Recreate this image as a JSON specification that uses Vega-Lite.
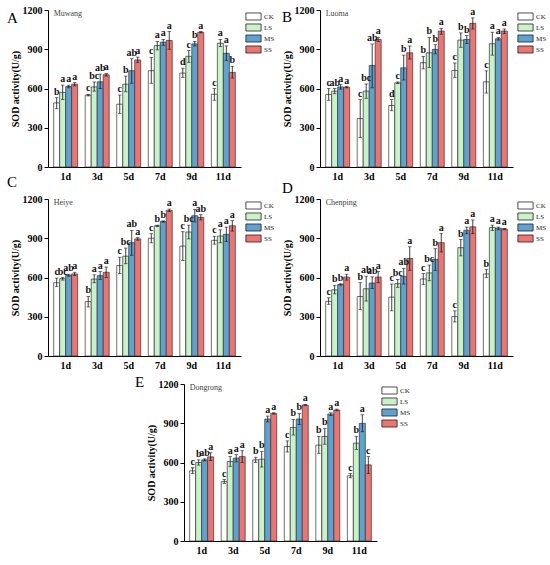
{
  "$schema": "https://vega.github.io/schema/vega-lite/v6.json",
  "padding": {"left": 7, "top": 5, "right": 5, "bottom": 5},
  "datasets": {
    "sod": [
      {"site": "Muwang", "day": "1d", "trt": "CK", "mean": 490, "lo": 445, "hi": 530, "letter": "b"},
      {"site": "Muwang", "day": "1d", "trt": "LS", "mean": 570, "lo": 515, "hi": 626, "letter": "a"},
      {"site": "Muwang", "day": "1d", "trt": "MS", "mean": 615, "lo": 605, "hi": 625, "letter": "a"},
      {"site": "Muwang", "day": "1d", "trt": "SS", "mean": 633, "lo": 620, "hi": 645, "letter": "a"},
      {"site": "Muwang", "day": "3d", "trt": "CK", "mean": 549, "lo": 543, "hi": 555, "letter": "c"},
      {"site": "Muwang", "day": "3d", "trt": "LS", "mean": 612, "lo": 580, "hi": 650, "letter": "bc"},
      {"site": "Muwang", "day": "3d", "trt": "MS", "mean": 651, "lo": 600, "hi": 710, "letter": "ab"},
      {"site": "Muwang", "day": "3d", "trt": "SS", "mean": 705, "lo": 695, "hi": 715, "letter": "a"},
      {"site": "Muwang", "day": "5d", "trt": "CK", "mean": 480, "lo": 410, "hi": 550, "letter": "c"},
      {"site": "Muwang", "day": "5d", "trt": "LS", "mean": 633, "lo": 575, "hi": 695, "letter": "b"},
      {"site": "Muwang", "day": "5d", "trt": "MS", "mean": 736, "lo": 640, "hi": 828, "letter": "ab"},
      {"site": "Muwang", "day": "5d", "trt": "SS", "mean": 818, "lo": 800, "hi": 840, "letter": "a"},
      {"site": "Muwang", "day": "7d", "trt": "CK", "mean": 736, "lo": 640, "hi": 838, "letter": "c"},
      {"site": "Muwang", "day": "7d", "trt": "LS", "mean": 928, "lo": 895, "hi": 960, "letter": "a"},
      {"site": "Muwang", "day": "7d", "trt": "MS", "mean": 954, "lo": 930, "hi": 975, "letter": "a"},
      {"site": "Muwang", "day": "7d", "trt": "SS", "mean": 967, "lo": 900, "hi": 1035, "letter": "a"},
      {"site": "Muwang", "day": "9d", "trt": "CK", "mean": 718, "lo": 685, "hi": 755, "letter": "d"},
      {"site": "Muwang", "day": "9d", "trt": "LS", "mean": 846, "lo": 800, "hi": 890, "letter": "c"},
      {"site": "Muwang", "day": "9d", "trt": "MS", "mean": 941, "lo": 925, "hi": 960, "letter": "b"},
      {"site": "Muwang", "day": "9d", "trt": "SS", "mean": 1030, "lo": 1025, "hi": 1035, "letter": "a"},
      {"site": "Muwang", "day": "11d", "trt": "CK", "mean": 556, "lo": 510, "hi": 600, "letter": "c"},
      {"site": "Muwang", "day": "11d", "trt": "LS", "mean": 946, "lo": 920, "hi": 975, "letter": "a"},
      {"site": "Muwang", "day": "11d", "trt": "MS", "mean": 869, "lo": 815, "hi": 925, "letter": "a"},
      {"site": "Muwang", "day": "11d", "trt": "SS", "mean": 723, "lo": 680, "hi": 770, "letter": "b"},

      {"site": "Luoma", "day": "1d", "trt": "CK", "mean": 554, "lo": 510, "hi": 600, "letter": "c"},
      {"site": "Luoma", "day": "1d", "trt": "LS", "mean": 580, "lo": 560, "hi": 600, "letter": "ab"},
      {"site": "Luoma", "day": "1d", "trt": "MS", "mean": 612, "lo": 595, "hi": 630, "letter": "a"},
      {"site": "Luoma", "day": "1d", "trt": "SS", "mean": 610, "lo": 605, "hi": 615, "letter": "a"},
      {"site": "Luoma", "day": "3d", "trt": "CK", "mean": 370, "lo": 225, "hi": 515, "letter": "c"},
      {"site": "Luoma", "day": "3d", "trt": "LS", "mean": 580, "lo": 525, "hi": 635, "letter": "bc"},
      {"site": "Luoma", "day": "3d", "trt": "MS", "mean": 776, "lo": 605, "hi": 940, "letter": "ab"},
      {"site": "Luoma", "day": "3d", "trt": "SS", "mean": 975, "lo": 960, "hi": 990, "letter": "a"},
      {"site": "Luoma", "day": "5d", "trt": "CK", "mean": 470, "lo": 430, "hi": 515, "letter": "d"},
      {"site": "Luoma", "day": "5d", "trt": "LS", "mean": 643, "lo": 638, "hi": 650, "letter": "c"},
      {"site": "Luoma", "day": "5d", "trt": "MS", "mean": 758, "lo": 665, "hi": 855, "letter": "b"},
      {"site": "Luoma", "day": "5d", "trt": "SS", "mean": 873, "lo": 825, "hi": 925, "letter": "a"},
      {"site": "Luoma", "day": "7d", "trt": "CK", "mean": 797, "lo": 750, "hi": 845, "letter": "b"},
      {"site": "Luoma", "day": "7d", "trt": "LS", "mean": 873, "lo": 760, "hi": 990, "letter": "b"},
      {"site": "Luoma", "day": "7d", "trt": "MS", "mean": 899, "lo": 865, "hi": 935, "letter": "b"},
      {"site": "Luoma", "day": "7d", "trt": "SS", "mean": 1039, "lo": 1015, "hi": 1060, "letter": "a"},
      {"site": "Luoma", "day": "9d", "trt": "CK", "mean": 738, "lo": 685, "hi": 795, "letter": "c"},
      {"site": "Luoma", "day": "9d", "trt": "LS", "mean": 970, "lo": 915, "hi": 1025, "letter": "b"},
      {"site": "Luoma", "day": "9d", "trt": "MS", "mean": 975, "lo": 945, "hi": 1005, "letter": "b"},
      {"site": "Luoma", "day": "9d", "trt": "SS", "mean": 1098, "lo": 1055, "hi": 1140, "letter": "a"},
      {"site": "Luoma", "day": "11d", "trt": "CK", "mean": 651, "lo": 565, "hi": 735, "letter": "c"},
      {"site": "Luoma", "day": "11d", "trt": "LS", "mean": 942, "lo": 855, "hi": 1030, "letter": "a"},
      {"site": "Luoma", "day": "11d", "trt": "MS", "mean": 980, "lo": 970, "hi": 990, "letter": "a"},
      {"site": "Luoma", "day": "11d", "trt": "SS", "mean": 1039, "lo": 1020, "hi": 1055, "letter": "a"},

      {"site": "Heiye", "day": "1d", "trt": "CK", "mean": 560, "lo": 530, "hi": 595, "letter": "c"},
      {"site": "Heiye", "day": "1d", "trt": "LS", "mean": 591, "lo": 580, "hi": 600, "letter": "bc"},
      {"site": "Heiye", "day": "1d", "trt": "MS", "mean": 617, "lo": 610, "hi": 625, "letter": "ab"},
      {"site": "Heiye", "day": "1d", "trt": "SS", "mean": 627, "lo": 615, "hi": 640, "letter": "a"},
      {"site": "Heiye", "day": "3d", "trt": "CK", "mean": 416, "lo": 375, "hi": 455, "letter": "b"},
      {"site": "Heiye", "day": "3d", "trt": "LS", "mean": 588, "lo": 560, "hi": 620, "letter": "a"},
      {"site": "Heiye", "day": "3d", "trt": "MS", "mean": 614, "lo": 585, "hi": 645, "letter": "a"},
      {"site": "Heiye", "day": "3d", "trt": "SS", "mean": 640, "lo": 600, "hi": 680, "letter": "a"},
      {"site": "Heiye", "day": "5d", "trt": "CK", "mean": 691, "lo": 630, "hi": 755, "letter": "c"},
      {"site": "Heiye", "day": "5d", "trt": "LS", "mean": 763, "lo": 705, "hi": 825, "letter": "bc"},
      {"site": "Heiye", "day": "5d", "trt": "MS", "mean": 866, "lo": 770, "hi": 960, "letter": "ab"},
      {"site": "Heiye", "day": "5d", "trt": "SS", "mean": 895, "lo": 885, "hi": 905, "letter": "a"},
      {"site": "Heiye", "day": "7d", "trt": "CK", "mean": 900, "lo": 865, "hi": 935, "letter": "c"},
      {"site": "Heiye", "day": "7d", "trt": "LS", "mean": 995, "lo": 990, "hi": 1000, "letter": "b"},
      {"site": "Heiye", "day": "7d", "trt": "MS", "mean": 1028, "lo": 1023, "hi": 1033, "letter": "b"},
      {"site": "Heiye", "day": "7d", "trt": "SS", "mean": 1113, "lo": 1103, "hi": 1123, "letter": "a"},
      {"site": "Heiye", "day": "9d", "trt": "CK", "mean": 840, "lo": 730, "hi": 950, "letter": "c"},
      {"site": "Heiye", "day": "9d", "trt": "LS", "mean": 948, "lo": 895, "hi": 1000, "letter": "bc"},
      {"site": "Heiye", "day": "9d", "trt": "MS", "mean": 1072, "lo": 1025, "hi": 1120, "letter": "a"},
      {"site": "Heiye", "day": "9d", "trt": "SS", "mean": 1059, "lo": 1040, "hi": 1080, "letter": "ab"},
      {"site": "Heiye", "day": "11d", "trt": "CK", "mean": 884, "lo": 855, "hi": 915, "letter": "c"},
      {"site": "Heiye", "day": "11d", "trt": "LS", "mean": 917, "lo": 865, "hi": 965, "letter": "a"},
      {"site": "Heiye", "day": "11d", "trt": "MS", "mean": 930, "lo": 875, "hi": 985, "letter": "a"},
      {"site": "Heiye", "day": "11d", "trt": "SS", "mean": 995, "lo": 955, "hi": 1035, "letter": "a"},

      {"site": "Chenping", "day": "1d", "trt": "CK", "mean": 418, "lo": 395, "hi": 445, "letter": "c"},
      {"site": "Chenping", "day": "1d", "trt": "LS", "mean": 506, "lo": 475, "hi": 540, "letter": "b"},
      {"site": "Chenping", "day": "1d", "trt": "MS", "mean": 547, "lo": 542, "hi": 552, "letter": "b"},
      {"site": "Chenping", "day": "1d", "trt": "SS", "mean": 603, "lo": 580, "hi": 625, "letter": "a"},
      {"site": "Chenping", "day": "3d", "trt": "CK", "mean": 455, "lo": 355, "hi": 560, "letter": "b"},
      {"site": "Chenping", "day": "3d", "trt": "LS", "mean": 514, "lo": 420, "hi": 610, "letter": "ab"},
      {"site": "Chenping", "day": "3d", "trt": "MS", "mean": 558, "lo": 515, "hi": 605, "letter": "ab"},
      {"site": "Chenping", "day": "3d", "trt": "SS", "mean": 603, "lo": 560, "hi": 645, "letter": "a"},
      {"site": "Chenping", "day": "5d", "trt": "CK", "mean": 450, "lo": 345, "hi": 550, "letter": "c"},
      {"site": "Chenping", "day": "5d", "trt": "LS", "mean": 553, "lo": 525, "hi": 585, "letter": "bc"},
      {"site": "Chenping", "day": "5d", "trt": "MS", "mean": 609, "lo": 550, "hi": 670, "letter": "ab"},
      {"site": "Chenping", "day": "5d", "trt": "SS", "mean": 745, "lo": 655, "hi": 835, "letter": "a"},
      {"site": "Chenping", "day": "7d", "trt": "CK", "mean": 589, "lo": 545, "hi": 630, "letter": "c"},
      {"site": "Chenping", "day": "7d", "trt": "LS", "mean": 635, "lo": 575, "hi": 695, "letter": "bc"},
      {"site": "Chenping", "day": "7d", "trt": "MS", "mean": 738, "lo": 655, "hi": 820, "letter": "b"},
      {"site": "Chenping", "day": "7d", "trt": "SS", "mean": 866, "lo": 795, "hi": 935, "letter": "a"},
      {"site": "Chenping", "day": "9d", "trt": "CK", "mean": 301, "lo": 260, "hi": 345, "letter": "c"},
      {"site": "Chenping", "day": "9d", "trt": "LS", "mean": 828, "lo": 765, "hi": 890, "letter": "b"},
      {"site": "Chenping", "day": "9d", "trt": "MS", "mean": 961, "lo": 935, "hi": 985, "letter": "a"},
      {"site": "Chenping", "day": "9d", "trt": "SS", "mean": 987, "lo": 935, "hi": 1040, "letter": "a"},
      {"site": "Chenping", "day": "11d", "trt": "CK", "mean": 627, "lo": 600, "hi": 660, "letter": "b"},
      {"site": "Chenping", "day": "11d", "trt": "LS", "mean": 982, "lo": 960, "hi": 1000, "letter": "a"},
      {"site": "Chenping", "day": "11d", "trt": "MS", "mean": 977, "lo": 965, "hi": 985, "letter": "a"},
      {"site": "Chenping", "day": "11d", "trt": "SS", "mean": 971, "lo": 965, "hi": 975, "letter": "a"},

      {"site": "Dongrong", "day": "1d", "trt": "CK", "mean": 536, "lo": 515, "hi": 560, "letter": "c"},
      {"site": "Dongrong", "day": "1d", "trt": "LS", "mean": 600, "lo": 580, "hi": 620, "letter": "b"},
      {"site": "Dongrong", "day": "1d", "trt": "MS", "mean": 620, "lo": 612, "hi": 628, "letter": "ab"},
      {"site": "Dongrong", "day": "1d", "trt": "SS", "mean": 643, "lo": 615, "hi": 675, "letter": "a"},
      {"site": "Dongrong", "day": "3d", "trt": "CK", "mean": 454, "lo": 440, "hi": 470, "letter": "c"},
      {"site": "Dongrong", "day": "3d", "trt": "LS", "mean": 608, "lo": 570, "hi": 645, "letter": "a"},
      {"site": "Dongrong", "day": "3d", "trt": "MS", "mean": 633, "lo": 605, "hi": 660, "letter": "a"},
      {"site": "Dongrong", "day": "3d", "trt": "SS", "mean": 645, "lo": 600, "hi": 690, "letter": "a"},
      {"site": "Dongrong", "day": "5d", "trt": "CK", "mean": 620, "lo": 600, "hi": 640, "letter": "b"},
      {"site": "Dongrong", "day": "5d", "trt": "LS", "mean": 625, "lo": 565, "hi": 685, "letter": "b"},
      {"site": "Dongrong", "day": "5d", "trt": "MS", "mean": 932, "lo": 910, "hi": 955, "letter": "a"},
      {"site": "Dongrong", "day": "5d", "trt": "SS", "mean": 975, "lo": 970, "hi": 980, "letter": "a"},
      {"site": "Dongrong", "day": "7d", "trt": "CK", "mean": 722, "lo": 680, "hi": 765, "letter": "c"},
      {"site": "Dongrong", "day": "7d", "trt": "LS", "mean": 868, "lo": 810, "hi": 930, "letter": "b"},
      {"site": "Dongrong", "day": "7d", "trt": "MS", "mean": 932, "lo": 890, "hi": 975, "letter": "b"},
      {"site": "Dongrong", "day": "7d", "trt": "SS", "mean": 1039, "lo": 1034, "hi": 1044, "letter": "a"},
      {"site": "Dongrong", "day": "9d", "trt": "CK", "mean": 733, "lo": 670, "hi": 800, "letter": "b"},
      {"site": "Dongrong", "day": "9d", "trt": "LS", "mean": 799, "lo": 740, "hi": 860, "letter": "b"},
      {"site": "Dongrong", "day": "9d", "trt": "MS", "mean": 970, "lo": 960, "hi": 980, "letter": "a"},
      {"site": "Dongrong", "day": "9d", "trt": "SS", "mean": 1001, "lo": 995, "hi": 1008, "letter": "a"},
      {"site": "Dongrong", "day": "11d", "trt": "CK", "mean": 498, "lo": 483, "hi": 515, "letter": "c"},
      {"site": "Dongrong", "day": "11d", "trt": "LS", "mean": 748, "lo": 700, "hi": 800, "letter": "b"},
      {"site": "Dongrong", "day": "11d", "trt": "MS", "mean": 899, "lo": 835, "hi": 965, "letter": "a"},
      {"site": "Dongrong", "day": "11d", "trt": "SS", "mean": 582, "lo": 515, "hi": 645, "letter": "c"}
    ]
  },
  "data": {"name": "sod"},
  "vconcat": [
    {
      "columns": 2,
      "spacing": {"row": 32, "column": 79},
      "bounds": "flush",
      "resolve": {"legend": {"color": "independent"}},
      "concat": [
        {
          "title": {"text": "A", "offset": -21, "dx": -3},
          "width": 193, "height": 157,
          "transform": [{"filter": "datum.site === 'Muwang'"}],
          "encoding": {
            "x": {"field": "day", "type": "nominal", "sort": ["1d", "3d", "5d", "7d", "9d", "11d"], "title": null, "scale": {"paddingInner": 0.24, "paddingOuter": 0.18}, "axis": {"labelAngle": 0, "ticks": false}},
            "xOffset": {"field": "trt", "type": "nominal", "sort": ["CK", "LS", "MS", "SS"]}
          },
          "layer": [
            {"mark": {"type": "bar", "stroke": "#333333", "strokeWidth": 0.7},
             "encoding": {
               "y": {"field": "mean", "type": "quantitative", "title": "SOD activity(U/g)", "scale": {"domain": [0, 1200]}, "axis": {"values": [0, 300, 600, 900, 1200], "format": "d", "labelOverlap": false}},
               "color": {"field": "trt", "type": "nominal", "title": null, "scale": {"domain": ["CK", "LS", "MS", "SS"], "range": ["#ffffff", "#c9f2c5", "#5ba3d2", "#ef736e"]}}}},
            {"mark": {"type": "rule", "color": "#111111", "strokeWidth": 0.8}, "encoding": {"y": {"field": "lo", "type": "quantitative", "title": "SOD activity(U/g)", "axis": {"values": [0, 300, 600, 900, 1200], "format": "d", "labelOverlap": false}}, "y2": {"field": "hi"}}},
            {"mark": {"type": "tick", "color": "#111111", "thickness": 0.8, "size": 3.5}, "encoding": {"y": {"field": "lo", "type": "quantitative", "title": "SOD activity(U/g)", "axis": {"values": [0, 300, 600, 900, 1200], "format": "d", "labelOverlap": false}}}},
            {"mark": {"type": "tick", "color": "#111111", "thickness": 0.8, "size": 3.5}, "encoding": {"y": {"field": "hi", "type": "quantitative", "title": "SOD activity(U/g)", "axis": {"values": [0, 300, 600, 900, 1200], "format": "d", "labelOverlap": false}}}},
            {"mark": {"type": "text", "baseline": "bottom", "dy": -1, "fontSize": 10, "fontWeight": "bold", "font": "Liberation Serif", "color": "#111111"}, "encoding": {"y": {"field": "hi", "type": "quantitative", "title": "SOD activity(U/g)", "axis": {"values": [0, 300, 600, 900, 1200], "format": "d", "labelOverlap": false}}, "text": {"field": "letter"}}},
            {"transform": [{"filter": "datum.day === '1d' && datum.trt === 'CK'"}], "mark": {"type": "text", "align": "left", "baseline": "middle", "dx": -3, "fontSize": 8, "font": "Liberation Serif", "color": "#444444"}, "encoding": {"y": {"datum": 1170, "axis": {"values": [0, 300, 600, 900, 1200], "format": "d", "labelOverlap": false}}, "text": {"field": "site"}}}
          ]
        },
        {
          "title": {"text": "B", "offset": -20, "dx": 0},
          "width": 193, "height": 157,
          "transform": [{"filter": "datum.site === 'Luoma'"}],
          "encoding": {
            "x": {"field": "day", "type": "nominal", "sort": ["1d", "3d", "5d", "7d", "9d", "11d"], "title": null, "scale": {"paddingInner": 0.24, "paddingOuter": 0.18}, "axis": {"labelAngle": 0, "ticks": false}},
            "xOffset": {"field": "trt", "type": "nominal", "sort": ["CK", "LS", "MS", "SS"]}
          },
          "layer": [
            {"mark": {"type": "bar", "stroke": "#333333", "strokeWidth": 0.7},
             "encoding": {
               "y": {"field": "mean", "type": "quantitative", "title": "SOD activity(U/g)", "scale": {"domain": [0, 1200]}, "axis": {"values": [0, 300, 600, 900, 1200], "format": "d", "labelOverlap": false}},
               "color": {"field": "trt", "type": "nominal", "title": null, "scale": {"domain": ["CK", "LS", "MS", "SS"], "range": ["#ffffff", "#c9f2c5", "#5ba3d2", "#ef736e"]}}}},
            {"mark": {"type": "rule", "color": "#111111", "strokeWidth": 0.8}, "encoding": {"y": {"field": "lo", "type": "quantitative", "title": "SOD activity(U/g)", "axis": {"values": [0, 300, 600, 900, 1200], "format": "d", "labelOverlap": false}}, "y2": {"field": "hi"}}},
            {"mark": {"type": "tick", "color": "#111111", "thickness": 0.8, "size": 3.5}, "encoding": {"y": {"field": "lo", "type": "quantitative", "title": "SOD activity(U/g)", "axis": {"values": [0, 300, 600, 900, 1200], "format": "d", "labelOverlap": false}}}},
            {"mark": {"type": "tick", "color": "#111111", "thickness": 0.8, "size": 3.5}, "encoding": {"y": {"field": "hi", "type": "quantitative", "title": "SOD activity(U/g)", "axis": {"values": [0, 300, 600, 900, 1200], "format": "d", "labelOverlap": false}}}},
            {"mark": {"type": "text", "baseline": "bottom", "dy": -1, "fontSize": 10, "fontWeight": "bold", "font": "Liberation Serif", "color": "#111111"}, "encoding": {"y": {"field": "hi", "type": "quantitative", "title": "SOD activity(U/g)", "axis": {"values": [0, 300, 600, 900, 1200], "format": "d", "labelOverlap": false}}, "text": {"field": "letter"}}},
            {"transform": [{"filter": "datum.day === '1d' && datum.trt === 'CK'"}], "mark": {"type": "text", "align": "left", "baseline": "middle", "dx": -3, "fontSize": 8, "font": "Liberation Serif", "color": "#444444"}, "encoding": {"y": {"datum": 1170, "axis": {"values": [0, 300, 600, 900, 1200], "format": "d", "labelOverlap": false}}, "text": {"field": "site"}}}
          ]
        },
        {
          "title": {"text": "C", "offset": 4, "dx": -3},
          "width": 193, "height": 157,
          "transform": [{"filter": "datum.site === 'Heiye'"}],
          "encoding": {
            "x": {"field": "day", "type": "nominal", "sort": ["1d", "3d", "5d", "7d", "9d", "11d"], "title": null, "scale": {"paddingInner": 0.24, "paddingOuter": 0.18}, "axis": {"labelAngle": 0, "ticks": false}},
            "xOffset": {"field": "trt", "type": "nominal", "sort": ["CK", "LS", "MS", "SS"]}
          },
          "layer": [
            {"mark": {"type": "bar", "stroke": "#333333", "strokeWidth": 0.7},
             "encoding": {
               "y": {"field": "mean", "type": "quantitative", "title": "SOD activity(U/g)", "scale": {"domain": [0, 1200]}, "axis": {"values": [0, 300, 600, 900, 1200], "format": "d", "labelOverlap": false}},
               "color": {"field": "trt", "type": "nominal", "title": null, "scale": {"domain": ["CK", "LS", "MS", "SS"], "range": ["#ffffff", "#c9f2c5", "#5ba3d2", "#ef736e"]}}}},
            {"mark": {"type": "rule", "color": "#111111", "strokeWidth": 0.8}, "encoding": {"y": {"field": "lo", "type": "quantitative", "title": "SOD activity(U/g)", "axis": {"values": [0, 300, 600, 900, 1200], "format": "d", "labelOverlap": false}}, "y2": {"field": "hi"}}},
            {"mark": {"type": "tick", "color": "#111111", "thickness": 0.8, "size": 3.5}, "encoding": {"y": {"field": "lo", "type": "quantitative", "title": "SOD activity(U/g)", "axis": {"values": [0, 300, 600, 900, 1200], "format": "d", "labelOverlap": false}}}},
            {"mark": {"type": "tick", "color": "#111111", "thickness": 0.8, "size": 3.5}, "encoding": {"y": {"field": "hi", "type": "quantitative", "title": "SOD activity(U/g)", "axis": {"values": [0, 300, 600, 900, 1200], "format": "d", "labelOverlap": false}}}},
            {"mark": {"type": "text", "baseline": "bottom", "dy": -1, "fontSize": 10, "fontWeight": "bold", "font": "Liberation Serif", "color": "#111111"}, "encoding": {"y": {"field": "hi", "type": "quantitative", "title": "SOD activity(U/g)", "axis": {"values": [0, 300, 600, 900, 1200], "format": "d", "labelOverlap": false}}, "text": {"field": "letter"}}},
            {"transform": [{"filter": "datum.day === '1d' && datum.trt === 'CK'"}], "mark": {"type": "text", "align": "left", "baseline": "middle", "dx": -3, "fontSize": 8, "font": "Liberation Serif", "color": "#444444"}, "encoding": {"y": {"datum": 1170, "axis": {"values": [0, 300, 600, 900, 1200], "format": "d", "labelOverlap": false}}, "text": {"field": "site"}}}
          ]
        },
        {
          "title": {"text": "D", "offset": -2, "dx": 0},
          "width": 193, "height": 157,
          "transform": [{"filter": "datum.site === 'Chenping'"}],
          "encoding": {
            "x": {"field": "day", "type": "nominal", "sort": ["1d", "3d", "5d", "7d", "9d", "11d"], "title": null, "scale": {"paddingInner": 0.24, "paddingOuter": 0.18}, "axis": {"labelAngle": 0, "ticks": false}},
            "xOffset": {"field": "trt", "type": "nominal", "sort": ["CK", "LS", "MS", "SS"]}
          },
          "layer": [
            {"mark": {"type": "bar", "stroke": "#333333", "strokeWidth": 0.7},
             "encoding": {
               "y": {"field": "mean", "type": "quantitative", "title": "SOD activity(U/g)", "scale": {"domain": [0, 1200]}, "axis": {"values": [0, 300, 600, 900, 1200], "format": "d", "labelOverlap": false}},
               "color": {"field": "trt", "type": "nominal", "title": null, "scale": {"domain": ["CK", "LS", "MS", "SS"], "range": ["#ffffff", "#c9f2c5", "#5ba3d2", "#ef736e"]}}}},
            {"mark": {"type": "rule", "color": "#111111", "strokeWidth": 0.8}, "encoding": {"y": {"field": "lo", "type": "quantitative", "title": "SOD activity(U/g)", "axis": {"values": [0, 300, 600, 900, 1200], "format": "d", "labelOverlap": false}}, "y2": {"field": "hi"}}},
            {"mark": {"type": "tick", "color": "#111111", "thickness": 0.8, "size": 3.5}, "encoding": {"y": {"field": "lo", "type": "quantitative", "title": "SOD activity(U/g)", "axis": {"values": [0, 300, 600, 900, 1200], "format": "d", "labelOverlap": false}}}},
            {"mark": {"type": "tick", "color": "#111111", "thickness": 0.8, "size": 3.5}, "encoding": {"y": {"field": "hi", "type": "quantitative", "title": "SOD activity(U/g)", "axis": {"values": [0, 300, 600, 900, 1200], "format": "d", "labelOverlap": false}}}},
            {"mark": {"type": "text", "baseline": "bottom", "dy": -1, "fontSize": 10, "fontWeight": "bold", "font": "Liberation Serif", "color": "#111111"}, "encoding": {"y": {"field": "hi", "type": "quantitative", "title": "SOD activity(U/g)", "axis": {"values": [0, 300, 600, 900, 1200], "format": "d", "labelOverlap": false}}, "text": {"field": "letter"}}},
            {"transform": [{"filter": "datum.day === '1d' && datum.trt === 'CK'"}], "mark": {"type": "text", "align": "left", "baseline": "middle", "dx": -3, "fontSize": 8, "font": "Liberation Serif", "color": "#444444"}, "encoding": {"y": {"datum": 1170, "axis": {"values": [0, 300, 600, 900, 1200], "format": "d", "labelOverlap": false}}, "text": {"field": "site"}}}
          ]
        }
      ]
    },
    {
      "title": {"text": "E", "offset": -11, "dx": -11},
      "width": 193, "height": 157,
      "transform": [{"filter": "datum.site === 'Dongrong'"}],
      "encoding": {
        "x": {"field": "day", "type": "nominal", "sort": ["1d", "3d", "5d", "7d", "9d", "11d"], "title": null, "scale": {"paddingInner": 0.24, "paddingOuter": 0.18}, "axis": {"labelAngle": 0, "ticks": false}},
        "xOffset": {"field": "trt", "type": "nominal", "sort": ["CK", "LS", "MS", "SS"]}
      },
      "layer": [
        {"mark": {"type": "bar", "stroke": "#333333", "strokeWidth": 0.7},
         "encoding": {
           "y": {"field": "mean", "type": "quantitative", "title": "SOD activity(U/g)", "scale": {"domain": [0, 1200]}, "axis": {"values": [0, 300, 600, 900, 1200], "format": "d", "labelOverlap": false}},
           "color": {"field": "trt", "type": "nominal", "title": null, "scale": {"domain": ["CK", "LS", "MS", "SS"], "range": ["#ffffff", "#c9f2c5", "#5ba3d2", "#ef736e"]}}}},
        {"mark": {"type": "rule", "color": "#111111", "strokeWidth": 0.8}, "encoding": {"y": {"field": "lo", "type": "quantitative", "title": "SOD activity(U/g)", "axis": {"values": [0, 300, 600, 900, 1200], "format": "d", "labelOverlap": false}}, "y2": {"field": "hi"}}},
        {"mark": {"type": "tick", "color": "#111111", "thickness": 0.8, "size": 3.5}, "encoding": {"y": {"field": "lo", "type": "quantitative", "title": "SOD activity(U/g)", "axis": {"values": [0, 300, 600, 900, 1200], "format": "d", "labelOverlap": false}}}},
        {"mark": {"type": "tick", "color": "#111111", "thickness": 0.8, "size": 3.5}, "encoding": {"y": {"field": "hi", "type": "quantitative", "title": "SOD activity(U/g)", "axis": {"values": [0, 300, 600, 900, 1200], "format": "d", "labelOverlap": false}}}},
        {"mark": {"type": "text", "baseline": "bottom", "dy": -1, "fontSize": 10, "fontWeight": "bold", "font": "Liberation Serif", "color": "#111111"}, "encoding": {"y": {"field": "hi", "type": "quantitative", "title": "SOD activity(U/g)", "axis": {"values": [0, 300, 600, 900, 1200], "format": "d", "labelOverlap": false}}, "text": {"field": "letter"}}},
        {"transform": [{"filter": "datum.day === '1d' && datum.trt === 'CK'"}], "mark": {"type": "text", "align": "left", "baseline": "middle", "dx": -3, "fontSize": 8, "font": "Liberation Serif", "color": "#444444"}, "encoding": {"y": {"datum": 1170, "axis": {"values": [0, 300, 600, 900, 1200], "format": "d", "labelOverlap": false}}, "text": {"field": "site"}}}
      ]
    }
  ],
  "spacing": 5,
  "center": true,
  "resolve": {"legend": {"color": "independent"}},
  "config": {
    "font": "Liberation Serif",
    "view": {"stroke": null},
    "axis": {
      "domainColor": "#000000", "tickColor": "#000000", "labelColor": "#000000", "titleColor": "#000000",
      "labelFont": "Liberation Serif", "titleFont": "Liberation Serif",
      "labelFontSize": 10, "labelFontWeight": "bold", "titleFontSize": 10, "titleFontWeight": "bold",
      "grid": false, "tickSize": 4, "domainWidth": 1, "labelOverlap": false
    },
    "axisY": {"titlePadding": 2, "labelPadding": 2},
    "axisX": {"labelPadding": 4},
    "title": {"font": "Liberation Serif", "fontSize": 15, "fontWeight": "normal", "anchor": "start", "frame": "bounds", "color": "#000000"},
    "legend": {
      "orient": "right", "offset": 6, "padding": 2,
      "labelFont": "Liberation Serif", "labelFontSize": 7, "labelColor": "#222222", "labelOffset": 6,
      "symbolType": "M-1.9,-0.88H1.9V0.88H-1.9Z", "symbolSize": 64,
      "symbolStrokeColor": "#222222", "symbolStrokeWidth": 0.8, "symbolOpacity": 1, "rowPadding": 0
    }
  }
}
